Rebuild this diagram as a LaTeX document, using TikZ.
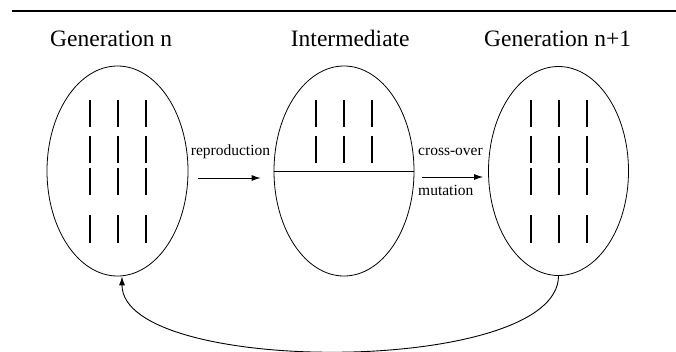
\documentclass[tikz,border=0pt]{standalone}
\usepackage{fontspec}
\setmainfont{Liberation Serif}
\usetikzlibrary{shapes.geometric,arrows.meta}
\begin{document}
\begin{tikzpicture}[x=1pt,y=-1pt,
  pop/.style={draw,ellipse,line width=0.8pt,minimum width=141pt,minimum height=210pt,inner sep=0pt},
  title/.style={anchor=base west,inner sep=0pt,font=\fontsize{23.5}{27}\selectfont},
  lbl/.style={anchor=base west,inner sep=0pt,font=\fontsize{15.5}{18}\selectfont},
  bar/.style={line width=2pt},
  flow/.style={-{Latex[length=9pt,width=6pt]},line width=0.9pt}]
\useasboundingbox (0,0) rectangle (676,351);
\draw[line width=2.3pt] (12,11.2) -- (676,11.2);
% titles
\node[title] (t1) at (50,46) {Generation n};
\node[title] (t2) at (290.7,46) {Intermediate};
\node[title] (t3) at (484,46) {Generation n+1};
% populations
\node[pop] (g1) at (117.5,171) {};
\node[pop,minimum width=140pt] (im) at (344,171) {};
\node[pop,minimum width=140pt,minimum height=209pt] (g2) at (558.5,171) {};
\draw[line width=0.8pt] (im.west) -- (im.east);
% bars
\foreach \c in {117.5,558.5}{
  \foreach \dx in {-28,0,28}{
    \foreach \ya/\yb in {100/127,136/163,168/195,215/243}{
      \draw[bar] (\c+\dx,\ya) -- (\c+\dx,\yb);
    }
  }
}
\foreach \dx in {-28,0,28}{
  \foreach \ya/\yb in {100/127,136/163}{
    \draw[bar] (344+\dx,\ya) -- (344+\dx,\yb);
  }
}
% labels
\node[lbl] (rep) at (190.7,155) {reproduction};
\node[lbl] (co) at (418,155) {cross-over};
\node[lbl] (mu) at (418,195) {mutation};
% arrows
\draw[flow,shorten <=10pt,shorten >=13pt] ([yshift=-7pt]g1.east) -- ([yshift=-7pt]im.west);
\draw[flow,shorten <=8pt,shorten >=5pt] ([yshift=-6pt]im.east) -- ([yshift=-6pt]g2.west);
\draw[flow] (g2.south) .. controls +(0,100) and +(0,100) .. ([xshift=4.5pt]g1.south);
\end{tikzpicture}
\end{document}
